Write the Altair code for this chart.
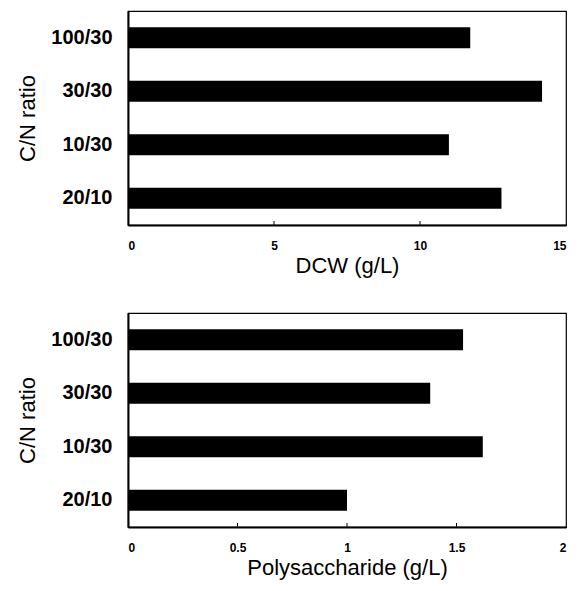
import altair as alt
import pandas as pd

categories = ["100/30", "30/30", "10/30", "20/10"]
dcw = [11.72, 14.18, 10.99, 12.79]
polysaccharide = [1.53, 1.38, 1.62, 1.0]
dcw_ticks = [0, 5, 10, 15]
poly_ticks = [0, 0.5, 1, 1.5, 2]

FONT = "Liberation Sans"
W, H = 438, 214

def panel(values, ticks, xmax, xtitle, fmt):
    df = pd.DataFrame({"ratio": categories, "value": values})
    tdf = pd.DataFrame({"t": ticks[1:-1]})
    xscale = alt.Scale(domain=[0, xmax], nice=False, zero=True)
    bars = alt.Chart(df).mark_bar(size=21, color="black").encode(
        x=alt.X("value:Q", scale=xscale,
                axis=alt.Axis(values=ticks, format=fmt, title=xtitle, ticks=False,
                              grid=False, domainColor="black", domainWidth=2,
                              labelFont=FONT, labelFontSize=12, labelFontWeight="bold",
                              labelColor="black", labelPadding=15,
                              titleFont=FONT, titleFontSize=22, titleFontWeight="normal",
                              titleColor="black", titlePadding=4)),
        y=alt.Y("ratio:N", sort=categories, scale=alt.Scale(paddingInner=0, paddingOuter=0),
                axis=alt.Axis(title="C/N ratio", ticks=False, domainColor="black",
                              domainWidth=2, labelFont=FONT, labelFontSize=20,
                              labelFontWeight="bold", labelColor="black", labelPadding=16,
                              titleFont=FONT, titleFontSize=22, titleFontWeight="normal",
                              titleColor="black", titlePadding=11)),
    )
    tk = alt.Chart(tdf).mark_rule(color="black", strokeWidth=1).encode(
        x=alt.X("t:Q", scale=xscale),
        y=alt.value(H - 4), y2=alt.value(H),
    )
    return alt.layer(bars, tk).properties(width=W, height=H)

top = panel(dcw, dcw_ticks, 15, "DCW (g/L)", "d")
bottom = panel(polysaccharide, poly_ticks, 2, "Polysaccharide (g/L)", ".1~f")

chart = alt.vconcat(top, bottom, spacing=35).properties(
    padding={"left": 16, "top": 10, "right": 5, "bottom": 5},
    background="white",
).configure_view(stroke="black", strokeWidth=1.2)

chart.save("out.html", embed_options={"renderer": "svg", "actions": False})
